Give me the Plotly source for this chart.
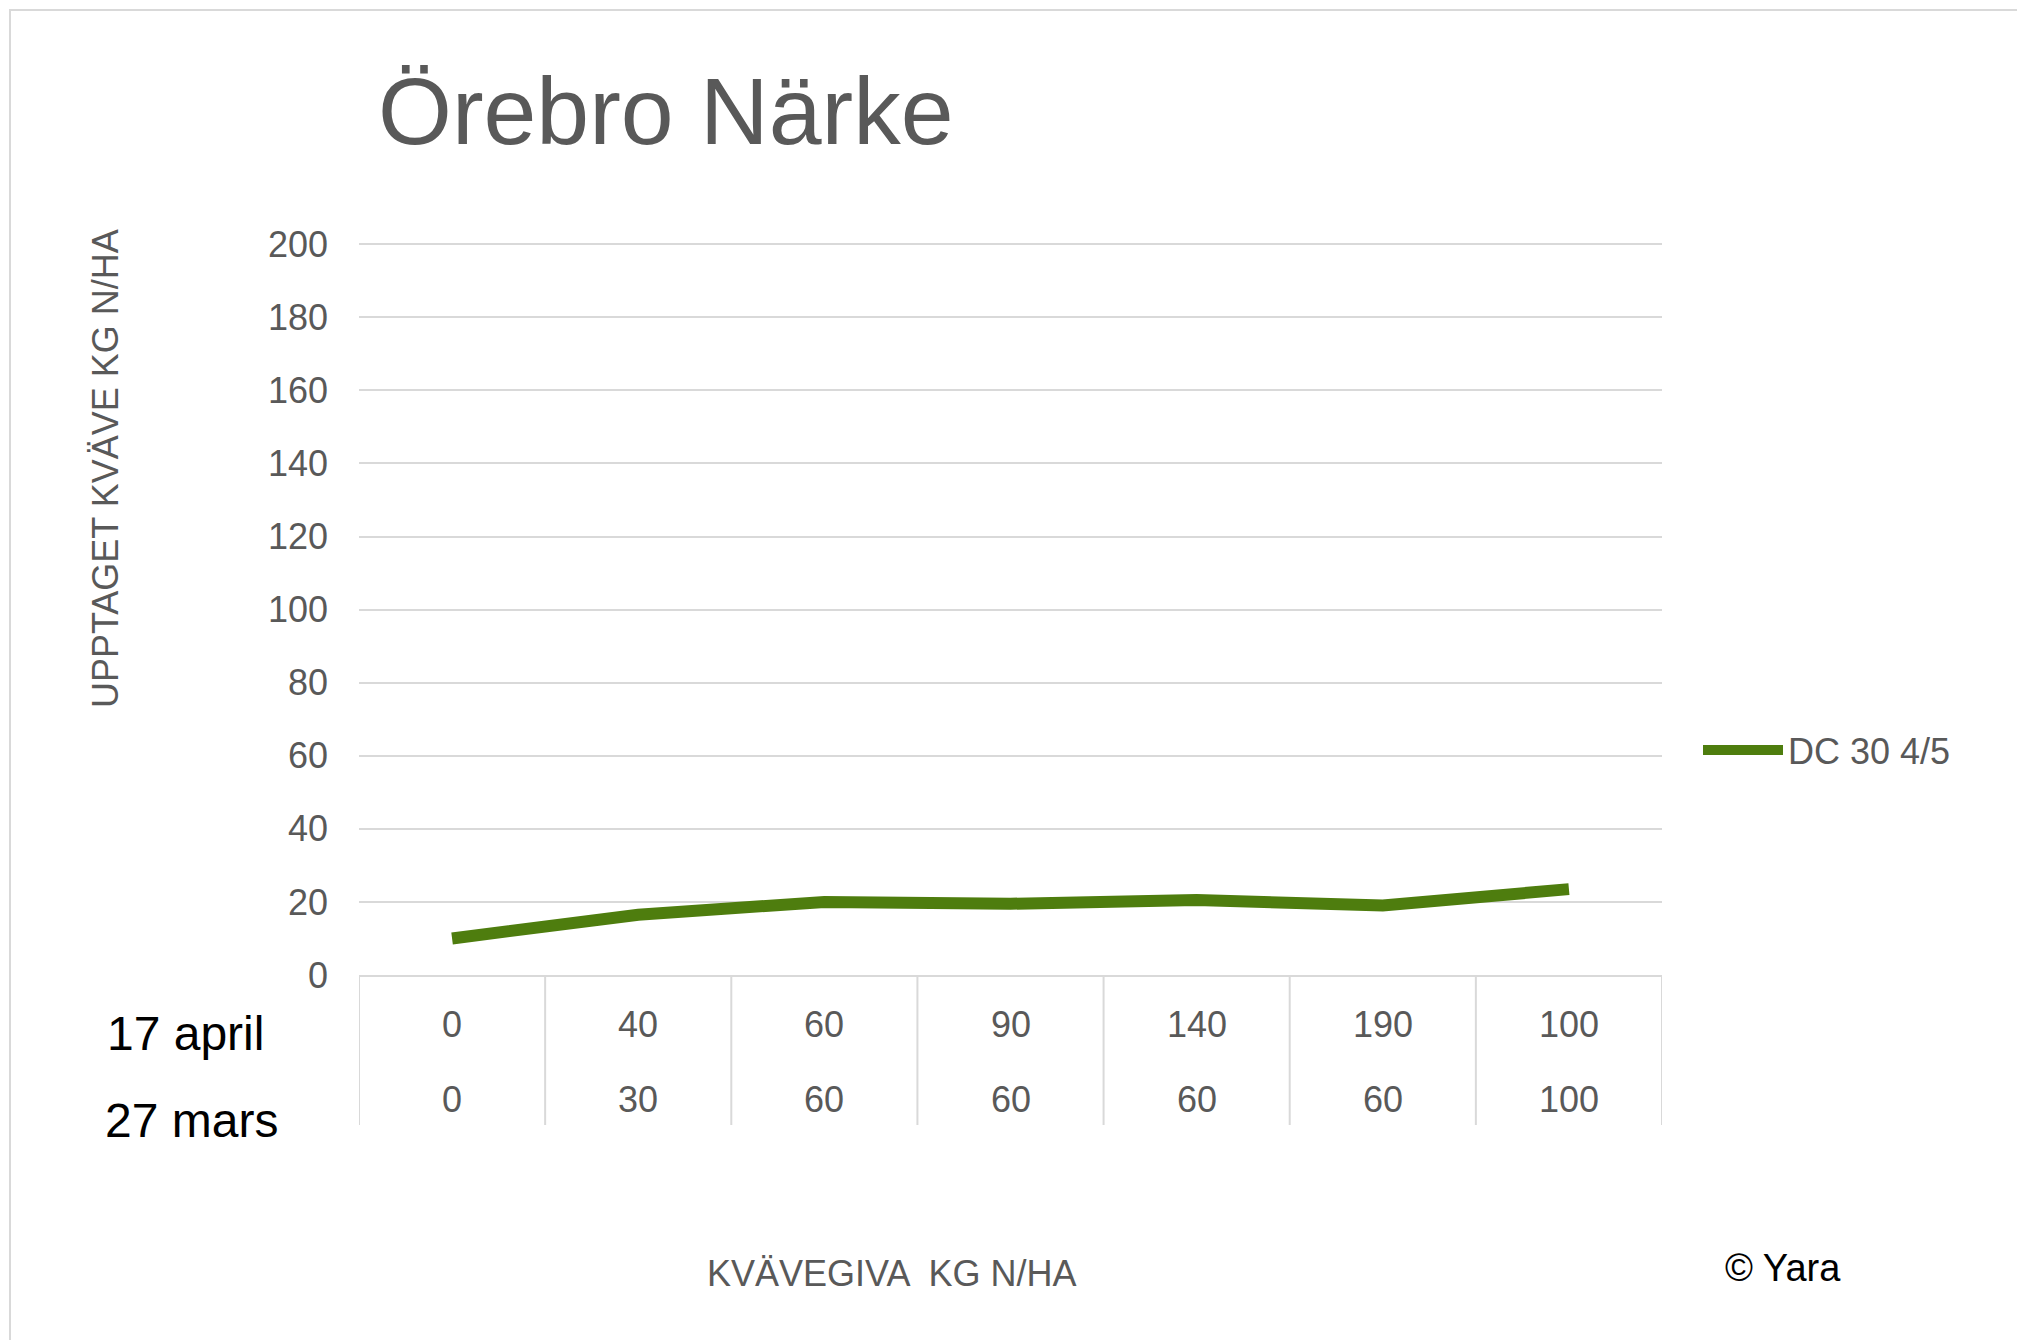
import plotly.graph_objects as go

row1 = ["0", "40", "60", "90", "140", "190", "100"]
row2 = ["0", "30", "60", "60", "60", "60", "100"]
values = [10, 16.5, 20, 19.5, 20.5, 19, 23.5]
series_name = "DC 30 4/5"
row_names = ["17 april", "27 mars"]

W, H = 2025, 1340
L, R, T, B = 351, 371, 234, 373
pw, ph = W - L - R, H - T - B
def px(yp): return -(yp - (H - B)) / ph  # pixel y -> paper y
def pxx(xp): return (xp - L) / pw

GREY = "#595959"
xs = [i + 0.5 for i in range(len(values))]
fig = go.Figure(go.Scatter(x=xs, y=values, mode="lines", name=series_name,
                           line=dict(color="#4E7D0E", width=12)))
shapes, ann = [], []
for i in range(len(values) + 1):
    shapes.append(dict(type="line", xref="x", yref="paper", x0=i, x1=i, y0=0, y1=px(1117),
                       line=dict(color="#D9D9D9", width=2)))
for i in range(len(values)):
    ann.append(dict(x=xs[i], y=px(1016), xref="x", yref="paper", text=row1[i], showarrow=False,
                    yanchor="middle", font=dict(size=36, color=GREY)))
    ann.append(dict(x=xs[i], y=px(1091), xref="x", yref="paper", text=row2[i], showarrow=False,
                    yanchor="middle", font=dict(size=36, color=GREY)))
ann.append(dict(x=pxx(97), y=px(1025), xref="paper", yref="paper", text=row_names[0], showarrow=False,
                xanchor="left", yanchor="middle", font=dict(size=48, color="black")))
ann.append(dict(x=pxx(95), y=px(1112), xref="paper", yref="paper", text=row_names[1], showarrow=False,
                xanchor="left", yanchor="middle", font=dict(size=48, color="black")))
ann.append(dict(x=pxx(97), y=px(461), xref="paper", yref="paper", text="UPPTAGET KVÄVE KG N/HA",
                textangle=-90, showarrow=False, xanchor="center", yanchor="middle",
                font=dict(size=36, color=GREY)))
ann.append(dict(x=pxx(883), y=px(1265), xref="paper", yref="paper", text="KVÄVEGIVA  KG N/HA",
                showarrow=False, yanchor="middle", font=dict(size=36, color=GREY)))
ann.append(dict(x=pxx(1835), y=px(1260), xref="paper", yref="paper", text="© Yara",
                showarrow=False, yanchor="middle", font=dict(size=38, color="black")))
ann.append(dict(x=pxx(368), y=px(103), xref="paper", yref="paper", text="Örebro Närke",
                xanchor="left", yanchor="middle", showarrow=False, font=dict(size=95, color=GREY)))
shapes.append(dict(type="rect", xref="paper", yref="paper", x0=pxx(2), x1=pxx(W - 3),
                   y0=px(H - 3), y1=px(2), line=dict(color="#D9D9D9", width=2)))

fig.update_layout(
    width=W, height=H, margin=dict(l=L, r=R, t=T, b=B),
    paper_bgcolor="white", plot_bgcolor="white",
    font=dict(family="Liberation Sans, Arial, sans-serif", color=GREY),
    xaxis=dict(range=[0, 7], showticklabels=False, showgrid=False, zeroline=False,
               showline=True, linecolor="#D9D9D9", linewidth=2),
    yaxis=dict(range=[0, 200.6], tickvals=list(range(0, 201, 20)), gridcolor="#D9D9D9",
               gridwidth=2, zeroline=False,
               tickfont=dict(size=36, color=GREY), ticklabelstandoff=30),
    showlegend=True,
    legend=dict(x=pxx(1690), y=px(742), xanchor="left", yanchor="middle",
                font=dict(size=36, color=GREY), itemwidth=80),
    shapes=shapes, annotations=ann,
)
fig.write_html("out.html")
